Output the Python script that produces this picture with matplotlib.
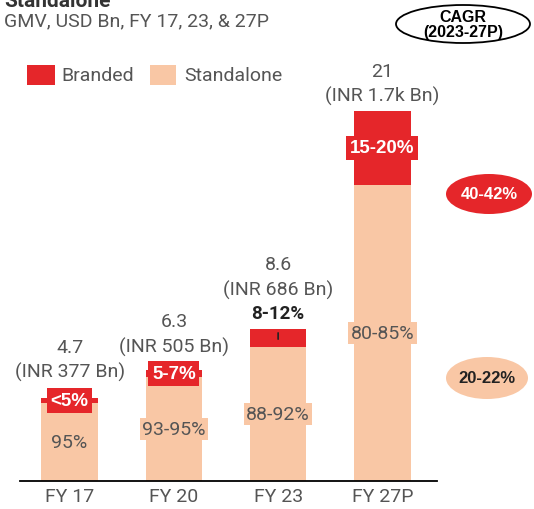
import matplotlib
matplotlib.use("Agg")
import matplotlib.pyplot as plt
from matplotlib.patches import Ellipse, Rectangle

# Dados: GMV (USD Bn) por ano fiscal, divididos em Branded / Standalone
years = ["FY 17", "FY 20", "FY 23", "FY 27P"]
total = [4.7, 6.3, 8.6, 21.0]
branded = [0.25, 0.4, 1.0, 4.2]
standalone = [t - b for t, b in zip(total, branded)]
inr_labels = ["(INR 377 Bn)", "(INR 505 Bn)", "(INR 686 Bn)", "(INR 1.7k Bn)"]
branded_share = ["<5%", "5-7%", "8-12%", "15-20%"]
standalone_share = ["95%", "93-95%", "88-92%", "80-85%"]
cagr_branded = "40-42%"
cagr_standalone = "20-22%"

RED = "#e5262a"
PEACH = "#f9c7a5"
GREY = "#555555"
FONT = ["Roboto", "DejaVu Sans"]
NARROW = ["Liberation Sans Narrow", "Liberation Sans", "DejaVu Sans"]
FS = 14

plt.rcParams["font.family"] = FONT

W, H = 534, 510
fig = plt.figure(figsize=(W / 100, H / 100), dpi=100, facecolor="white")

# eixo principal: linha de base em y=482 px, topo da barra de 21 em y=112 px
ax = fig.add_axes([20 / W, (H - 482) / H, 417 / W, 370 / H])
ax.set_xlim(-0.476, 3.524)
ax.set_ylim(0, 21)

x = list(range(len(years)))
ax.bar(x, standalone, width=0.543, color=PEACH, linewidth=0)
ax.bar(x, branded, bottom=standalone, width=0.543, color=RED, linewidth=0)

for s in ["top", "right", "left"]:
    ax.spines[s].set_visible(False)
ax.spines["bottom"].set_color("black")
ax.spines["bottom"].set_linewidth(1.3)
ax.set_yticks([])
ax.set_xticks(x)
ax.set_xticklabels(years, fontsize=FS, color=GREY)
ax.tick_params(axis="x", length=0, pad=4)

# distância (pontos) acima do topo da barra para a linha "(INR ...)"
inr_offset = [19, 17, 29, 11]

for i in x:
    # rótulo standalone no meio do segmento claro
    ax.text(i, standalone[i] / 2, standalone_share[i], ha="center", va="center",
            fontsize=FS, color=GREY,
            bbox=dict(boxstyle="square,pad=0.12", fc=PEACH, ec="none"))
    # valores totais acima da barra
    ax.annotate(inr_labels[i], (i, total[i]), xytext=(0, inr_offset[i]),
                textcoords="offset points", ha="center", va="center",
                fontsize=FS, color=GREY)
    ax.annotate(f"{total[i]:g}", (i, total[i]), xytext=(0, inr_offset[i] + 18),
                textcoords="offset points", ha="center", va="center",
                fontsize=FS, color=GREY)

# rótulos branded
for i in [0, 1, 3]:
    ax.text(i, standalone[i] + branded[i] / 2, branded_share[i], ha="center",
            va="center", fontsize=13.5, fontweight="bold", color="white",
            family=NARROW,
            bbox=dict(boxstyle="square,pad=0.2", fc=RED, ec="none"))
ax.annotate(branded_share[2], xy=(2, total[2] - 0.55),
            xytext=(0, 19), textcoords="offset points", ha="center", va="center",
            fontsize=13.5, fontweight="bold", color="#222222",
            arrowprops=dict(arrowstyle="-", color="#222222", lw=1.2,
                            shrinkA=6, shrinkB=0))

# camada de anotações em pixels
ov = fig.add_axes([0, 0, 1, 1], facecolor="none")
ov.set_xlim(0, W)
ov.set_ylim(H, 0)
ov.axis("off")

ov.text(4, 7, "Standalone", fontsize=15, fontweight="bold", color="#333333",
        va="baseline")
ov.text(4, 21, "GMV, USD Bn, FY 17, 23, & 27P", fontsize=FS, color=GREY,
        va="center")

# legenda
ov.add_patch(Rectangle((27, 66), 28, 20, fc=RED, ec="none"))
ov.text(61, 76, "Branded", fontsize=FS, color=GREY, va="center")
ov.add_patch(Rectangle((150, 66), 26, 20, fc=PEACH, ec="none"))
ov.text(184, 76, "Standalone", fontsize=FS, color=GREY, va="center")

# CAGR
ov.add_patch(Ellipse((463, 25), 134, 38, fc="white", ec="black", lw=1.3))
ov.text(463, 25, "CAGR\n(2023-27P)", ha="center", va="center", fontsize=11.5,
        fontweight="bold", color="black", family=NARROW, linespacing=1.0)
ov.add_patch(Ellipse((489, 195), 86, 40, fc=RED, ec="none"))
ov.text(489, 195, cagr_branded, ha="center", va="center", fontsize=12,
        fontweight="bold", color="white", family=NARROW)
ov.add_patch(Ellipse((487, 379), 82, 42, fc=PEACH, ec="none"))
ov.text(487, 379, cagr_standalone, ha="center", va="center", fontsize=12,
        fontweight="bold", color="#222222", family=NARROW)

fig.savefig("out.png", dpi=100, facecolor="white")
